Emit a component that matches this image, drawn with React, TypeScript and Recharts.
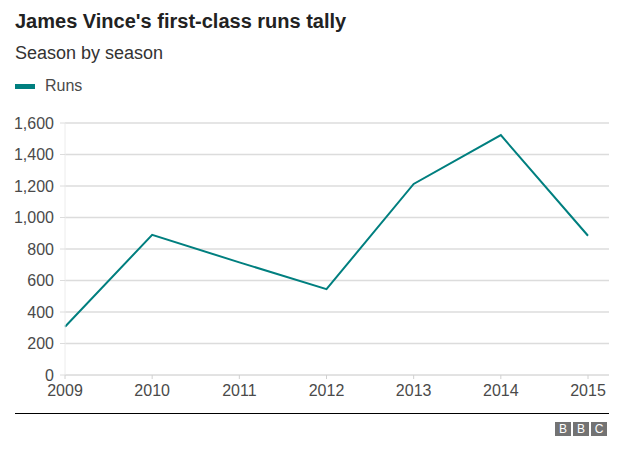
import { LineChart, Line, XAxis, YAxis, CartesianGrid } from 'recharts'

const seasons = ['2009', '2010', '2011', '2012', '2013', '2014', '2015']
const runs = [306, 890, 715, 545, 1213, 1523, 884]
const yTicks = [0, 200, 400, 600, 800, 1000, 1200, 1400, 1600]

const data = seasons.map((season, i) => ({ season, runs: runs[i] }))

const font = 'Arial, "Liberation Sans", Helvetica, sans-serif'
const teal = '#007f7f'
const labelGrey = '#4a4a4a'

const formatRuns = (v: number) => v.toLocaleString('en-GB')

function BbcLogo() {
  const box = {
    width: 16,
    height: 14,
    background: '#737373',
    color: '#fff',
    fontSize: 12,
    lineHeight: '14px',
    textAlign: 'center' as const,
    fontFamily: font,
  }
  return (
    <div style={{ position: 'absolute', left: 555, top: 422, display: 'flex', gap: 2 }}>
      <div style={box}>B</div>
      <div style={box}>B</div>
      <div style={box}>C</div>
    </div>
  )
}

export default function App() {
  return (
    <div
      style={{
        position: 'absolute',
        left: 0,
        top: 0,
        width: 624,
        height: 459,
        background: '#fff',
        fontFamily: font,
        overflow: 'hidden',
      }}
    >
      <div style={{ position: 'absolute', left: 15, top: 10, fontSize: 20, fontWeight: 700, color: '#222' }}>
        James Vince's first-class runs tally
      </div>
      <div style={{ position: 'absolute', left: 15, top: 43, fontSize: 18, color: '#333' }}>
        Season by season
      </div>
      <div style={{ position: 'absolute', left: 15, top: 77, height: 18, display: 'flex', alignItems: 'center' }}>
        <div style={{ width: 20, height: 5, background: teal }} />
        <span style={{ marginLeft: 10, fontSize: 16, color: labelGrey }}>Runs</span>
      </div>

      <div style={{ position: 'absolute', left: 0, top: 0 }}>
        <LineChart width={624} height={400} data={data} margin={{ top: 123, right: 15, bottom: 0, left: 10 }}>
          <CartesianGrid horizontal vertical={false} stroke="#dcdcdc" strokeWidth={1.5} />
          <XAxis
            dataKey="season"
            height={25}
            padding={{ left: 0, right: 21 }}
            axisLine={{ stroke: '#e0e0e0' }}
            tickLine={{ stroke: '#d0d0d0' }}
            tickSize={4}
            tickMargin={6}
            interval={0}
            tick={{ fontSize: 16, fill: labelGrey, fontFamily: font }}
          />
          <YAxis
            width={55}
            domain={[0, 1600]}
            ticks={yTicks}
            tickFormatter={formatRuns}
            axisLine={{ stroke: '#ececec' }}
            tickLine={{ stroke: '#dcdcdc' }}
            tickSize={5}
            tickMargin={6}
            tick={{ fontSize: 16, fill: labelGrey, fontFamily: font }}
          />
          <Line
            type="linear"
            dataKey="runs"
            stroke={teal}
            strokeWidth={2}
            dot={false}
            isAnimationActive={false}
          />
        </LineChart>
      </div>

      <div style={{ position: 'absolute', left: 15, top: 413, width: 594, height: 1, background: '#000' }} />
      <BbcLogo />
    </div>
  )
}
